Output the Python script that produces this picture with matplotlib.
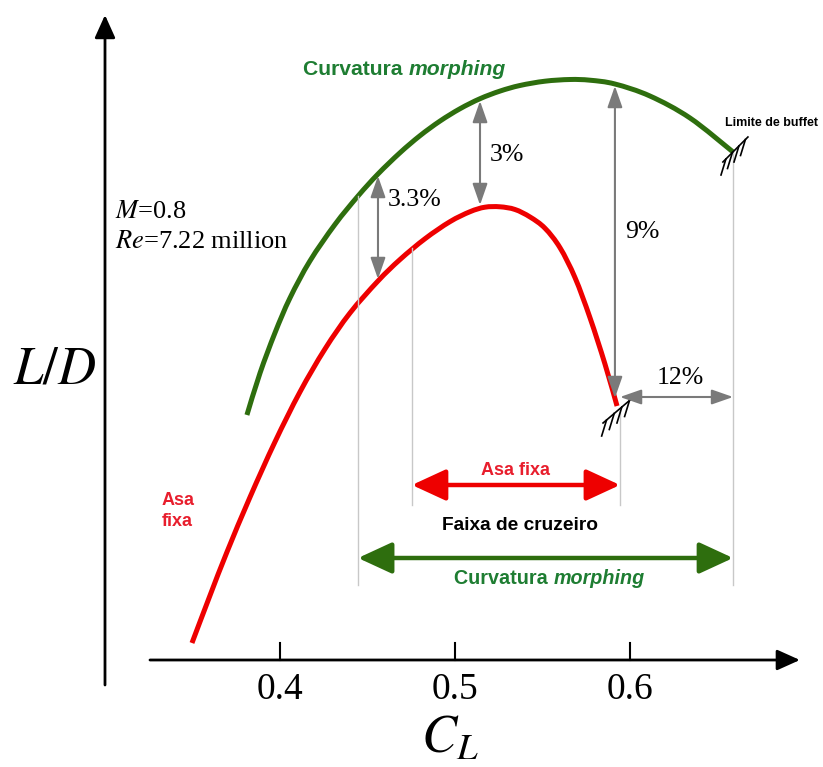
import matplotlib.pyplot as plt
import numpy as np
from matplotlib.patches import PathPatch
from matplotlib.path import Path

# lift-to-drag vs lift coefficient (schematic, L/D in arbitrary units)
cl_morph = [0.3811, 0.3886, 0.3971, 0.4057, 0.4171, 0.4314, 0.4446, 0.456,
            0.4686, 0.48, 0.4914, 0.5029, 0.5143, 0.5257, 0.5371, 0.5514,
            0.5657, 0.5771, 0.5914, 0.6114, 0.6343, 0.6589]
ld_morph = [24.5, 28.7, 32.7, 36.2, 39.9, 43.55, 46.4, 48.6,
            50.73, 52.43, 53.89, 55.13, 56.13, 56.89, 57.45, 57.88,
            58.05, 57.98, 57.6, 56.4, 54.2, 50.8]

cl_fixed = [0.3497, 0.36, 0.3697, 0.3829, 0.3971, 0.4114, 0.4257, 0.44,
            0.456, 0.4686, 0.4829, 0.4971, 0.5086, 0.5171, 0.5257, 0.5343,
            0.5429, 0.5514, 0.56, 0.5686, 0.5771, 0.5857, 0.5926]
ld_fixed = [1.7, 6.45, 10.8, 16.3, 21.8, 26.8, 31.1, 34.7,
            37.9, 40.05, 42.13, 43.83, 44.83, 45.28, 45.32, 45.05,
            44.3, 43.18, 41.23, 38.23, 34.25, 29.6, 25.4]

cl_ticks = [0.4, 0.5, 0.6]
tick_labels = ["0.4", "0.5", "0.6"]

# cruise ranges (C_L limits)
cruise_fixed = (0.4754, 0.5943)
cruise_morph = (0.4446, 0.6589)

# gains marked with arrows: (C_L, L/D low, L/D high, label)
gain_33 = (0.456, 38.1, 48.4, "3.3%")
gain_3 = (0.5143, 45.5, 55.9, "3%")
gain_9 = (0.5914, 26.2, 57.4, "9%")
gain_12 = (0.5943, 0.6589, 26.3, "12%")

GREEN = "#2e6e0e"
GREEN_TXT = "#1e7d32"
RED = "#ee0000"
RED_TXT = "#e81e2d"
GRAY = "#7a7a7a"
LIGHT = "#c8c8c8"
SERIF = "Liberation Serif"
SANS = "Liberation Sans"

fig = plt.figure(figsize=(8.23, 7.67), dpi=100)
ax = fig.add_axes([0, 0, 1, 1])
ax.set_xlim(0.24, 0.7103)
ax.set_ylim(-10.7, 66.0)
ax.set_axis_off()


def smooth_curve(xs, ys, color):
    # catmull-rom through the read points, drawn as cubic bezier segments
    pts = np.column_stack([xs, ys])
    ext = np.vstack([pts[0], pts, pts[-1]])
    verts = [pts[0]]
    codes = [Path.MOVETO]
    for i in range(1, len(ext) - 2):
        p0, p1, p2, p3 = ext[i - 1], ext[i], ext[i + 1], ext[i + 2]
        verts += [p1 + (p2 - p0) / 6, p2 - (p3 - p1) / 6, p2]
        codes += [Path.CURVE4] * 3
    ax.add_patch(PathPatch(Path(verts, codes), fill=False, edgecolor=color,
                           lw=3.6, capstyle="butt"))


# axes drawn as arrows
ax.annotate("", xy=(0.6971, 0), xytext=(0.3257, 0),
            arrowprops=dict(arrowstyle="-|>,head_length=1.0,head_width=0.45",
                            color="black", lw=2, mutation_scale=14,
                            shrinkA=0, shrinkB=0))
ax.annotate("", xy=(0.30, 64.5), xytext=(0.30, -2.5),
            arrowprops=dict(arrowstyle="-|>,head_length=1.0,head_width=0.45",
                            color="black", lw=2, mutation_scale=14,
                            shrinkA=0, shrinkB=0))
for c, lab in zip(cl_ticks, tick_labels):
    ax.plot([c, c], [0, 1.7], color="black", lw=1.5)
    ax.text(c, -3.0, lab, ha="center", va="center", fontsize=27, family=SERIF)

ax.text(0.2714, 29.0, "$L/D$", ha="center", va="center", fontsize=38,
        family=SERIF, math_fontfamily="stix")
ax.text(0.4971, -8.0, "$C_L$", ha="center", va="center", fontsize=38,
        family=SERIF, math_fontfamily="stix")

# reference lines for cruise limits
ax.plot([cruise_morph[0]] * 2, [7.5, 46.4], color=LIGHT, lw=1)
ax.plot([cruise_morph[1]] * 2, [7.5, 50.8], color=LIGHT, lw=1)
ax.plot([cruise_fixed[0]] * 2, [15.5, 41.2], color=LIGHT, lw=1)
ax.plot([cruise_fixed[1]] * 2, [15.5, 25.0], color=LIGHT, lw=1)

# curves
smooth_curve(cl_morph, ld_morph, GREEN)
smooth_curve(cl_fixed, ld_fixed, RED)


def hatch(x0, y0, x1, y1, n=4):
    ax.plot([x0, x1], [y0, y1], color="black", lw=1.2)
    for t in np.linspace(0.12, 0.9, n):
        px, py = x0 + t * (x1 - x0), y0 + t * (y1 - y0)
        ax.plot([px, px - 0.0028], [py, py - 1.6], color="black", lw=1.2)


hatch(0.5846, 23.7, 0.6014, 26.2)
hatch(0.6531, 49.8, 0.6674, 52.3)

gray_arrow = dict(arrowstyle="<|-|>,head_length=1.0,head_width=0.35",
                  color=GRAY, lw=1.5, mutation_scale=13, shrinkA=0, shrinkB=0)
for c, lo, hi, lab in (gain_33, gain_3, gain_9):
    ax.annotate("", xy=(c, hi), xytext=(c, lo), arrowprops=gray_arrow)
ax.annotate("", xy=(gain_12[1], gain_12[2]), xytext=(gain_12[0], gain_12[2]),
            arrowprops=gray_arrow)

pct = dict(fontsize=18.5, family=SERIF, va="center")
ax.text(0.4617, 46.0, gain_33[3], ha="left", **pct)
ax.text(0.52, 50.5, gain_3[3], ha="left", **pct)
ax.text(0.5971, 42.8, gain_9[3], ha="left", **pct)
ax.text(0.6286, 28.2, gain_12[3], ha="center", **pct)

ax.text(0.3057, 44.8, "$M$=0.8", ha="left", fontsize=19, family=SERIF,
        va="center", math_fontfamily="stix")
ax.text(0.3057, 41.8, "$Re$=7.22 million", ha="left", fontsize=19,
        family=SERIF, va="center", math_fontfamily="stix")

# cruise range arrows
big = "<|-|>,head_length=1.3,head_width=0.6"
ax.annotate("", xy=(cruise_fixed[1], 17.5), xytext=(cruise_fixed[0], 17.5),
            arrowprops=dict(arrowstyle=big, color=RED, lw=3.2,
                            mutation_scale=16, shrinkA=0, shrinkB=0))
ax.annotate("", xy=(cruise_morph[1], 10.2), xytext=(cruise_morph[0], 10.2),
            arrowprops=dict(arrowstyle=big, color=GREEN, lw=3.2,
                            mutation_scale=16, shrinkA=0, shrinkB=0))

sans = dict(family=SANS, fontweight="bold", fontsize=13)
ax.text(0.5343, 19.0, "Asa fixa", color=RED_TXT, ha="center", va="center", **sans)
ax.text(0.537, 13.5, "Faixa de cruzeiro", color="black", ha="center",
        va="center", family=SANS, fontweight="bold", fontsize=13.8)
ax.text(0.3326, 16.0, "Asa", color=RED_TXT, ha="left", va="center", **sans)
ax.text(0.3326, 13.8, "fixa", color=RED_TXT, ha="left", va="center", **sans)
ax.text(0.6806, 53.7, "Limite de buffet", color="black", ha="center",
        va="center", family=SANS, fontweight="bold", fontsize=9)


def morph_label(x, y, size):
    t = ax.text(x, y, "Curvatura ", color=GREEN_TXT, ha="left",
                va="baseline", family=SANS, fontweight="bold", fontsize=size)
    ax.annotate("morphing", xy=(1, 0), xycoords=t, va="bottom", ha="left",
                color=GREEN_TXT, style="italic", family=SANS,
                fontweight="bold", fontsize=size)


morph_label(0.4131, 58.5, 15.2)
morph_label(0.4994, 7.6, 14.2)

fig.savefig("out.png", dpi=100)
